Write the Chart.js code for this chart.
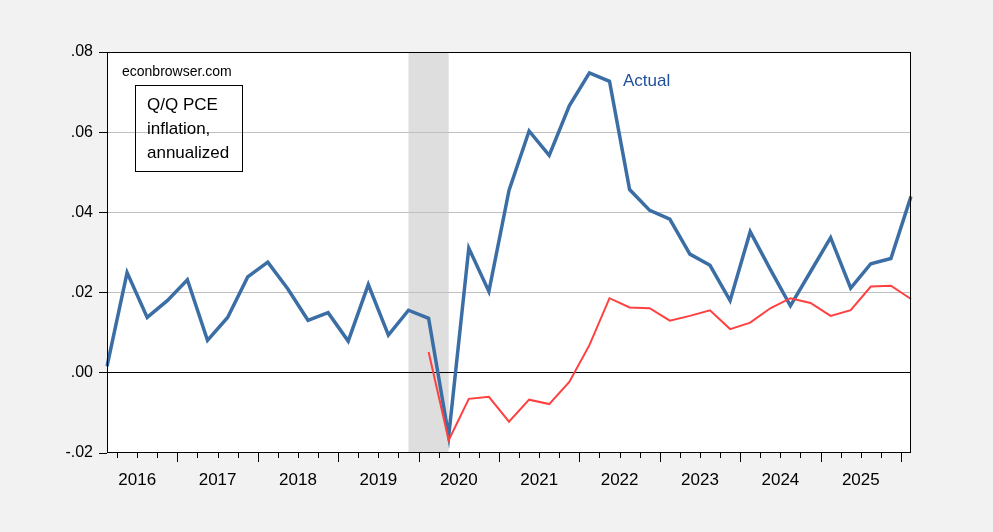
<!DOCTYPE html>
<html lang="en">
<head>
<meta charset="UTF-8">
<title>Q/Q PCE inflation, annualized</title>
<script src="https://cdn.jsdelivr.net/npm/chart.js"></script>
<style>
    html, body {
        margin: 0;
        padding: 0;
        background: #f2f2f2;
    }
    canvas {
        display: block;
    }
</style>
</head>
<body>
<canvas id="pceChart" width="993" height="532"></canvas>
<script>
// quarters 2016Q1 .. 2026Q1
const startYear = 2016;
const quarters = [];
for (let i = 0; i < 41; i++) {
    quarters.push((startYear + Math.floor(i / 4)) + 'Q' + (i % 4 + 1));
}

// actual Q/Q PCE inflation, annualized
const actual = [
    0.0016, 0.0250, 0.0138, 0.0180,
    0.0232, 0.0081, 0.0138, 0.0239,
    0.0276, 0.0209, 0.0131, 0.0150,
    0.0079, 0.0220, 0.0094, 0.0156,
    0.0136, -0.0158, 0.0311, 0.0203,
    0.0455, 0.0603, 0.0542, 0.0666,
    0.0748, 0.0727, 0.0457, 0.0405,
    0.0383, 0.0296, 0.0268, 0.0180,
    0.0352, 0.0258, 0.0167, 0.0252,
    0.0337, 0.0211, 0.0272, 0.0285,
    0.0440
];

// red series, starts 2020Q1
const redSeries = [
    null, null, null, null,
    null, null, null, null,
    null, null, null, null,
    null, null, null, null,
    0.0052, -0.0168, -0.0065, -0.0060,
    -0.0122, -0.0067, -0.0078, -0.0023,
    0.0069, 0.0186, 0.0163, 0.0161,
    0.0130, 0.0142, 0.0156, 0.0109,
    0.0125, 0.0161, 0.0186, 0.0174,
    0.0142, 0.0156, 0.0215, 0.0217,
    0.0184
];

const yTicks = [-0.02, 0.00, 0.02, 0.04, 0.06, 0.08];
const recessionStart = '2019Q4';
const recessionEnd = '2020Q2';

const FONT = "Arial, 'Liberation Sans', sans-serif";

function fmtTick(v) {
    const s = v.toFixed(2);
    return s.replace('0.', '.');
}

const framePlugin = {
    id: 'frame',
    beforeDraw(chart) {
        const { ctx, chartArea: a, scales: { x } } = chart;
        ctx.save();
        ctx.fillStyle = '#ffffff';
        ctx.fillRect(a.left, a.top, a.right - a.left, a.bottom - a.top);
        const x0 = x.getPixelForValue(quarters.indexOf(recessionStart));
        const x1 = x.getPixelForValue(quarters.indexOf(recessionEnd));
        ctx.fillStyle = '#dedede';
        ctx.fillRect(x0, a.top, x1 - x0, a.bottom - a.top);
        ctx.restore();
    },
    afterDraw(chart) {
        const { ctx, chartArea: a, scales: { x } } = chart;
        ctx.save();
        ctx.strokeStyle = '#000000';
        ctx.lineWidth = 1;
        ctx.strokeRect(a.left + 0.5, a.top + 0.5, a.right - a.left - 1, a.bottom - a.top - 1);

        // quarter ticks between points, long ones at year boundaries
        ctx.beginPath();
        for (let i = 1; i < quarters.length; i++) {
            const px = Math.round((x.getPixelForValue(i - 1) + x.getPixelForValue(i)) / 2) + 0.5;
            const len = (i % 4 === 0) ? 9 : 5;
            ctx.moveTo(px, a.bottom);
            ctx.lineTo(px, a.bottom + len);
        }
        ctx.stroke();

        // annotations
        ctx.fillStyle = '#000000';
        ctx.font = '14px ' + FONT;
        ctx.textBaseline = 'alphabetic';
        ctx.fillText('econbrowser.com', a.left + 15, a.top + 24);

        ctx.strokeRect(135.5, 85.5, 107, 86);
        ctx.font = '17px ' + FONT;
        ctx.fillText('Q/Q PCE', 147, 110);
        ctx.fillText('inflation,', 147, 134);
        ctx.fillText('annualized', 147, 158);

        ctx.fillStyle = '#1f4f9a';
        ctx.font = '17px ' + FONT;
        ctx.fillText('Actual', 623, 86);
        ctx.restore();
    }
};

const ctx = document.getElementById('pceChart').getContext('2d');
new Chart(ctx, {
    type: 'line',
    data: {
        labels: quarters,
        datasets: [
            {
                label: 'Red',
                data: redSeries,
                borderColor: '#ff4040',
                borderWidth: 2,
                pointRadius: 0,
                tension: 0,
                fill: false
            },
            {
                label: 'Actual',
                data: actual,
                borderColor: '#3b6ea5',
                borderWidth: 3.5,
                pointRadius: 0,
                tension: 0,
                fill: false
            }
        ]
    },
    options: {
        responsive: false,
        animation: false,
        devicePixelRatio: 1,
        layout: {
            padding: { left: 0, top: 52, right: 82, bottom: 0 }
        },
        plugins: {
            legend: { display: false },
            tooltip: { enabled: false }
        },
        scales: {
            x: {
                type: 'category',
                offset: false,
                grid: { display: false, drawTicks: false },
                border: { display: false },
                afterFit(scale) { scale.height = 79; },
                ticks: {
                    autoSkip: false,
                    maxRotation: 0,
                    minRotation: 0,
                    padding: 17,
                    labelOffset: -10,
                    color: '#000000',
                    font: { family: FONT, size: 17 },
                    callback(value) {
                        const q = this.getLabelForValue(value);
                        return q.endsWith('Q3') ? q.slice(0, 4) : '';
                    }
                }
            },
            y: {
                min: -0.02,
                max: 0.08,
                afterFit(scale) { scale.width = 107; },
                afterBuildTicks(scale) {
                    scale.ticks = yTicks.map(v => ({ value: v }));
                },
                border: { display: false },
                grid: {
                    drawTicks: true,
                    tickLength: 8,
                    tickColor: '#000000',
                    lineWidth: 1,
                    color(c) {
                        const v = c.tick ? Math.round(c.tick.value * 100) : null;
                        if (v === 0) return '#000000';
                        if (v === -2 || v === 8) return 'rgba(0,0,0,0)';
                        return '#c0c0c0';
                    }
                },
                ticks: {
                    padding: 6,
                    color: '#000000',
                    font: { family: FONT, size: 16 },
                    callback(value) { return fmtTick(value); }
                }
            }
        }
    },
    plugins: [framePlugin]
});
</script>
</body>
</html>
